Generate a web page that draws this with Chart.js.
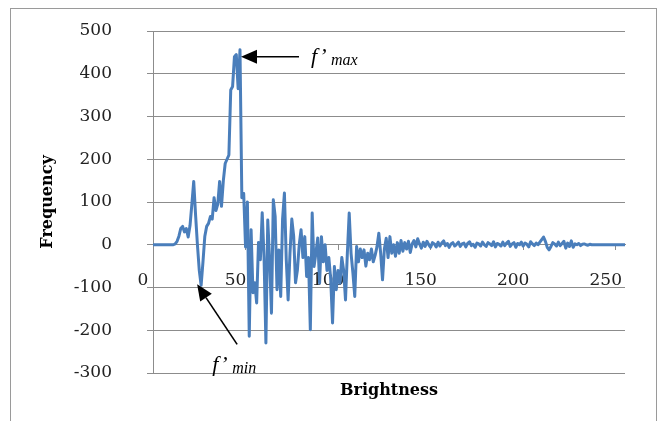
<!DOCTYPE html>
<html>
<head>
<meta charset="utf-8">
<script src="https://cdn.jsdelivr.net/npm/chart.js@4.4.1/dist/chart.umd.min.js"></script>
<style>
  html, body { margin: 0; padding: 0; background: #fff; }
  #wrap { width: 660px; height: 421px; }
</style>
</head>
<body>
<div id="wrap"><canvas id="chart" width="660" height="421"></canvas></div>
<script>
// brightness 0..255 -> frequency (derivative of histogram)
const frequency = [
  0, 0, 0, 0, 0, 0, 0, 0, 0, 0, 0, 0, 2, 8, 20, 38, 43, 30, 38, 18,
  45, 95, 148, 70, 0, -60, -95, -40, 20, 43, 50, 66, 60, 110, 80, 95, 148, 90, 150, 190,
  200, 210, 362, 370, 440, 445, 365, 456, 110, 120, -5, 100, -214, 35, -112, -89, -136, 5, -35, 75,
  -30, -230, 58, -35, -160, 105, 66, -105, -12, -121, 60, 121, -35, -129, -20, 60, 20, -89, -60, 0,
  35, -30, 19, -74, -30, -199, 74, -51, -20, 16, -90, 19, -40, 0, -60, -30, -80, -183, -51, -105,
  -60, -90, -30, -60, -129, -20, 74, -20, -66, -121, -4, -40, -10, -30, -12, -50, -20, -35, -10, -40,
  -25, -5, 27, -20, -82, -10, 15, -30, 19, -20, 0, -27, 5, -20, 10, -15, 5, -10, 8, -18,
  2, 10, -5, 14, 2, -8, 6, -4, 8, 0, -6, 5, 2, -5, 6, -3, 4, 9, -2, 3,
  -6, 2, 5, -3, 1, 6, -4, 2, 4, -5, 3, 7, -2, 1, -6, 4, 2, -3, 6, 0,
  -4, 5, 2, -2, 7, -5, 3, 1, -3, 6, -2, 4, 8, -4, 2, 5, -6, 3, 0, 6,
  -3, 4, 1, -5, 7, 2, -2, 4, 0, 6, 12, 18, 8, -6, -12, -4, 5, 2, -3, 6,
  -2, 3, 8, -8, 4, -4, 9, -6, 2, 0, 3, -2, 1, 2, 0, -1, 1, 0, 0, 0,
  0, 0, 0, 0, 0, 0, 0, 0, 0, 0, 0, 0, 0, 0, 0, 0
];
const xTicks = [0, 50, 100, 150, 200, 250];
const yTicks = [-300, -200, -100, 0, 100, 200, 300, 400, 500];
const xTitle = 'Brightness';
const yTitle = 'Frequency';
const fMinIndex = 26; // trough marked f'min

const gridColor = '#8c8c8c';
const lineColor = '#4a7ebb';
const serif = "'DejaVu Serif', serif";

function arrow(ctx, x0, y0, x1, y1) {
  const a = Math.atan2(y1 - y0, x1 - x0), len = 16, w = 7;
  const bx = x1 - len * Math.cos(a), by = y1 - len * Math.sin(a);
  ctx.beginPath();
  ctx.moveTo(x0, y0);
  ctx.lineTo(bx, by);
  ctx.stroke();
  ctx.beginPath();
  ctx.moveTo(x1, y1);
  ctx.lineTo(bx + w * Math.sin(a), by - w * Math.cos(a));
  ctx.lineTo(bx - w * Math.sin(a), by + w * Math.cos(a));
  ctx.closePath();
  ctx.fill();
}

function label(ctx, x, y, sub) {
  ctx.font = "italic 22px 'Liberation Serif', serif";
  ctx.fillText('f\u2019', x, y);
  ctx.font = "italic 16px 'Liberation Serif', serif";
  ctx.fillText(sub, x + 20, y + 2);
}

const annotate = {
  id: 'annotate',
  afterDraw(chart) {
    const ctx = chart.ctx;
    const xs = chart.scales.x, ys = chart.scales.y;
    ctx.save();
    // outer frame
    ctx.strokeStyle = '#9a9a9a';
    ctx.lineWidth = 1;
    ctx.strokeRect(10.5, 8.5, 646, 430);

    ctx.strokeStyle = '#000';
    ctx.fillStyle = '#000';
    ctx.lineWidth = 1.6;
    ctx.textBaseline = 'alphabetic';

    const peak = frequency.indexOf(Math.max(...frequency));
    const px = xs.getPixelForValue(peak) + 1, py = ys.getPixelForValue(frequency[peak]) + 7;
    arrow(ctx, px + 58, py, px, py);
    label(ctx, px + 70, py + 6, 'max');

    const mx = xs.getPixelForValue(fMinIndex) - 4, my = ys.getPixelForValue(frequency[fMinIndex]) - 1;
    arrow(ctx, mx + 40, my + 60, mx, my);
    label(ctx, mx + 15, my + 87, 'min');
    ctx.restore();
  }
};

new Chart(document.getElementById('chart'), {
  type: 'line',
  data: {
    datasets: [{
      data: frequency.map((v, i) => ({ x: i, y: v })),
      borderColor: lineColor,
      borderWidth: 3,
      borderJoinStyle: 'round',
      borderCapStyle: 'round',
      pointRadius: 0,
      tension: 0,
      fill: false
    }]
  },
  options: {
    responsive: false,
    animation: false,
    layout: { padding: { left: 0, top: 31, right: 35, bottom: 0 } },
    plugins: { legend: { display: false }, tooltip: { enabled: false } },
    scales: {
      x: {
        type: 'linear',
        min: 0,
        max: 255,
        position: { y: 0 },
        afterBuildTicks: s => { s.ticks = xTicks.map(v => ({ value: v })); },
        afterFit: s => { s.height = 0; },
        grid: { drawOnChartArea: false, drawTicks: true, tickLength: 5, color: gridColor },
        border: { color: gridColor },
        ticks: { labelOffset: -10, padding: 21, maxRotation: 0, color: '#222', font: { family: serif, size: 17 } }
      },
      x2: {
        type: 'linear',
        position: 'bottom',
        grid: { display: false },
        border: { display: false },
        ticks: { display: false },
        title: { display: true, text: xTitle, color: '#000', font: { family: serif, size: 16, weight: 'bold' }, padding: { top: 0, bottom: 21 } },
        afterFit: s => { s.height = 48; }
      },
      y: {
        min: -300,
        max: 500,
        afterBuildTicks: s => { s.ticks = yTicks.map(v => ({ value: v })); },
        // big tick padding would otherwise push the plot top down
        afterFit: s => { s.width = 153; s.paddingTop = 10; s.paddingBottom = 10; },
        grid: { color: gridColor, tickLength: 6 },
        border: { color: gridColor },
        ticks: { padding: 35, color: '#222', font: { family: serif, size: 17 } },
        title: { display: true, text: yTitle, color: '#000', font: { family: serif, size: 16, weight: 'bold' }, padding: { top: 38, bottom: 0 } }
      }
    }
  },
  plugins: [annotate]
});
</script>
</body>
</html>
